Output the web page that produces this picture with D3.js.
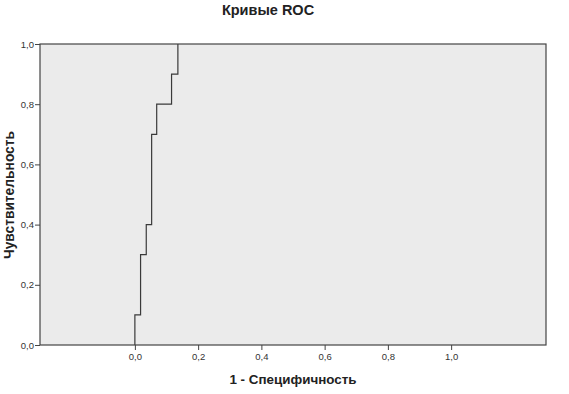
<!DOCTYPE html>
<html>
<head>
<meta charset="utf-8">
<script src="https://cdn.jsdelivr.net/npm/d3@7"></script>
<style>
  body { margin: 0; background: #fff; }
  svg { display: block; font-family: "Liberation Sans", Arial, sans-serif; }
</style>
</head>
<body>
<div id="chart"></div>
<script>
// ROC step curve (1 - specificity, sensitivity)
const fpr = [0, 0, 0.018, 0.018, 0.036, 0.036, 0.053, 0.053, 0.069, 0.069, 0.116, 0.116, 0.136, 0.136];
const tpr = [0, 0.1, 0.1, 0.3, 0.3, 0.4, 0.4, 0.7, 0.7, 0.8, 0.8, 0.9, 0.9, 1.0];
const xTicks = [0, 0.2, 0.4, 0.6, 0.8, 1.0];
const yTicks = [0, 0.2, 0.4, 0.6, 0.8, 1.0];
const title = 'Кривые ROC';
const xLabel = '1 - Специфичность';
const yLabel = 'Чувствительность';

const width = 569, height = 394;
const margin = {top: 44, right: 23, bottom: 49, left: 40};
const innerW = width - margin.left - margin.right;
const innerH = height - margin.top - margin.bottom;

const svg = d3.select('#chart').append('svg')
  .attr('width', width)
  .attr('height', height);

const g = svg.append('g')
  .attr('transform', 'translate(' + margin.left + ',' + margin.top + ')');

const xScale = d3.scaleLinear().domain([-0.3, 1.3]).range([0, innerW]);
const yScale = d3.scaleLinear().domain([0, 1]).range([innerH, 0]);
const fmt = (d) => d3.format('.1f')(d).replace('.', ',');

// plot background
g.append('rect')
  .attr('width', innerW)
  .attr('height', innerH)
  .attr('fill', '#ebebeb');

// axes
const xAxis = g.append('g')
  .attr('transform', 'translate(0,' + innerH + ')')
  .call(d3.axisBottom(xScale).tickValues(xTicks).tickSize(5).tickPadding(3).tickFormat(fmt));
const yAxis = g.append('g')
  .call(d3.axisLeft(yScale).tickValues(yTicks).tickSize(5).tickPadding(1).tickFormat(fmt));
[xAxis, yAxis].forEach((a) => {
  a.select('.domain').remove();
  a.selectAll('line').attr('stroke', '#444');
  a.selectAll('text').attr('fill', '#333').style('font-size', '9.5px');
});

// curve
const pts = fpr.map((x, i) => [x, tpr[i]]);
g.append('path')
  .datum(pts)
  .attr('fill', 'none')
  .attr('stroke', '#3a3a3a')
  .attr('stroke-width', 1.2)
  .attr('d', d3.line().x((d) => xScale(d[0])).y((d) => yScale(d[1])));

// frame
g.append('rect')
  .attr('width', innerW)
  .attr('height', innerH)
  .attr('fill', 'none')
  .attr('stroke', '#444')
  .attr('stroke-width', 1.2);

// title and labels
svg.append('text')
  .attr('x', 268)
  .attr('y', 15)
  .attr('text-anchor', 'middle')
  .style('font-size', '14.5px')
  .style('font-weight', 'bold')
  .attr('fill', '#222')
  .text(title);

svg.append('text')
  .attr('x', 293)
  .attr('y', 384)
  .attr('text-anchor', 'middle')
  .style('font-size', '13.4px')
  .style('font-weight', 'bold')
  .attr('fill', '#222')
  .text(xLabel);

svg.append('text')
  .attr('transform', 'translate(14,195) rotate(-90)')
  .attr('text-anchor', 'middle')
  .style('font-size', '13.8px')
  .style('font-weight', 'bold')
  .attr('fill', '#222')
  .text(yLabel);
</script>
</body>
</html>
